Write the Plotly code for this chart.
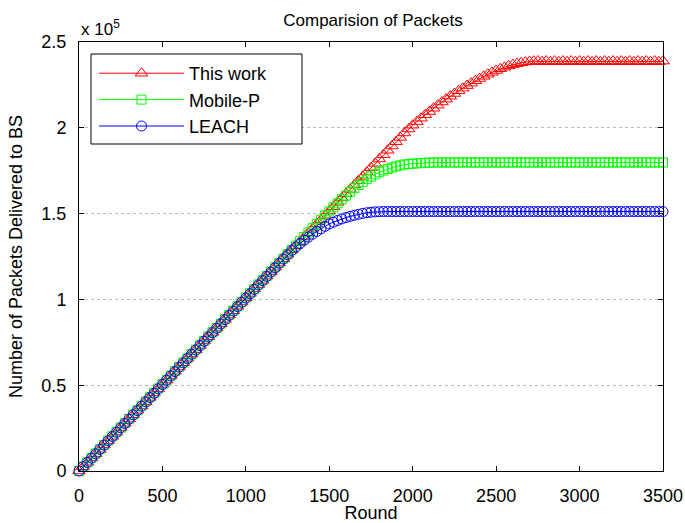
import plotly.graph_objects as go

rounds = [0, 25, 50, 75, 100, 125, 150, 175, 200, 225, 250, 275, 300, 325, 350, 375, 400, 425, 450, 475,
          500, 525, 550, 575, 600, 625, 650, 675, 700, 725, 750, 775, 800, 825, 850, 875, 900, 925, 950, 975,
          1000, 1025, 1050, 1075, 1100, 1125, 1150, 1175, 1200, 1225, 1250, 1275, 1300, 1325, 1350, 1375,
          1400, 1425, 1450, 1475, 1500, 1525, 1550, 1575, 1600, 1625, 1650, 1675, 1700, 1725, 1750, 1775,
          1800, 1825, 1850, 1875, 1900, 1925, 1950, 1975, 2000, 2025, 2050, 2075, 2100, 2125, 2150, 2175,
          2200, 2225, 2250, 2275, 2300, 2325, 2350, 2375, 2400, 2425, 2450, 2475, 2500, 2525, 2550, 2575,
          2600, 2625, 2650, 2675, 2700, 2725, 2750, 2775, 2800, 2825, 2850, 2875, 2900, 2925, 2950, 2975,
          3000, 3025, 3050, 3075, 3100, 3125, 3150, 3175, 3200, 3225, 3250, 3275, 3300, 3325, 3350, 3375,
          3400, 3425, 3450, 3475, 3500]

# packets delivered to BS, in thousands
this_work = [0.0, 2.5, 5.1, 7.6, 10.1, 12.6, 15.2, 17.7, 20.2, 22.7, 25.3, 27.8, 30.3, 32.8, 35.4, 37.9,
             40.4, 42.9, 45.5, 48.0, 50.5, 53.0, 55.6, 58.1, 60.6, 63.1, 65.7, 68.2, 70.7, 73.2, 75.8, 78.3,
             80.8, 83.3, 85.9, 88.4, 90.9, 93.4, 96.0, 98.5, 101.0, 103.5, 106.1, 108.6, 111.1, 113.6, 116.2,
             118.7, 121.2, 123.7, 126.3, 128.8, 131.3, 133.8, 136.4, 138.9, 141.4, 143.9, 146.5, 149.0, 151.5,
             154.0, 156.6, 159.1, 161.6, 164.1, 166.7, 169.2, 171.7, 174.2, 176.8, 179.3, 181.8, 184.3, 186.9,
             189.4, 191.9, 194.4, 197.0, 199.3, 201.5, 203.6, 205.6, 207.6, 209.5, 211.4, 213.2, 215.0, 216.7,
             218.4, 220.0, 221.6, 223.1, 224.6, 226.0, 227.4, 228.7, 230.0, 231.2, 232.3, 233.4, 234.4, 235.3,
             236.1, 236.8, 237.4, 237.9, 238.3, 238.6, 238.8, 238.9, 238.5, 238.9, 238.5, 238.9, 238.5, 238.9,
             238.5, 238.9, 238.5, 238.9, 238.5, 238.9, 238.5, 238.9, 238.5, 238.9, 238.5, 238.9, 238.5, 238.9,
             238.5, 238.9, 238.5, 238.9, 238.5, 238.9, 238.5, 238.9, 238.5, 238.9]

mobile_p = [0.0, 2.6, 5.1, 7.7, 10.2, 12.7, 15.2, 17.8, 20.3, 22.8, 25.3, 27.9, 30.4, 32.9, 35.4, 38.0,
            40.5, 43.0, 45.5, 48.1, 50.6, 53.1, 55.6, 58.2, 60.7, 63.2, 65.7, 68.3, 70.8, 73.3, 75.8, 78.4,
            80.9, 83.4, 85.9, 88.5, 91.0, 93.5, 96.0, 98.6, 101.1, 103.6, 106.1, 108.7, 111.2, 113.7, 116.2,
            118.8, 121.3, 123.8, 126.3, 128.9, 131.4, 133.9, 136.4, 139.0, 141.5, 144.0, 146.5, 149.0, 151.3,
            153.7, 156.0, 158.3, 160.5, 162.7, 164.8, 166.7, 168.5, 170.1, 171.6, 172.9, 174.1, 175.1, 176.0,
            176.8, 177.5, 178.1, 178.6, 178.9, 179.1, 179.3, 179.4, 179.6, 179.7, 179.8, 179.8, 179.8, 179.8,
            179.8, 179.8, 179.8, 179.8, 179.8, 179.8, 179.8, 179.8, 179.8, 179.8, 179.8, 179.8, 179.8, 179.8,
            179.8, 179.8, 179.8, 179.8, 179.8, 179.8, 179.8, 179.8, 179.8, 179.8, 179.8, 179.8, 179.8, 179.8,
            179.8, 179.8, 179.8, 179.8, 179.8, 179.8, 179.8, 179.8, 179.8, 179.8, 179.8, 179.8, 179.8, 179.8,
            179.8, 179.8, 179.8, 179.8, 179.8, 179.8, 179.8, 179.8, 179.8, 179.8]

leach = [0.0, 2.5, 5.0, 7.5, 10.0, 12.6, 15.1, 17.6, 20.1, 22.6, 25.2, 27.7, 30.2, 32.7, 35.2, 37.8,
         40.3, 42.8, 45.3, 47.9, 50.4, 52.9, 55.4, 57.9, 60.5, 63.0, 65.5, 68.0, 70.5, 73.1, 75.6, 78.1,
         80.6, 83.2, 85.7, 88.2, 90.7, 93.2, 95.8, 98.3, 100.8, 103.3, 105.8, 108.4, 110.9, 113.4, 115.9,
         118.4, 121.0, 123.5, 126.0, 128.5, 130.6, 132.6, 134.5, 136.3, 138.0, 139.6, 141.1, 142.6, 144.0,
         145.0, 146.0, 146.9, 147.7, 148.4, 149.0, 149.6, 150.1, 150.5, 150.8, 151.0, 151.1, 151.2, 151.2,
         151.2, 151.2, 151.2, 151.2, 151.2, 151.2, 151.2, 151.2, 151.2, 151.2, 151.2, 151.2, 151.2, 151.2,
         151.2, 151.2, 151.2, 151.2, 151.2, 151.2, 151.2, 151.2, 151.2, 151.2, 151.2, 151.2, 151.2, 151.2,
         151.2, 151.2, 151.2, 151.2, 151.2, 151.2, 151.2, 151.2, 151.2, 151.2, 151.2, 151.2, 151.2, 151.2,
         151.2, 151.2, 151.2, 151.2, 151.2, 151.2, 151.2, 151.2, 151.2, 151.2, 151.2, 151.2, 151.2, 151.2,
         151.2, 151.2, 151.2, 151.2, 151.2, 151.2, 151.2, 151.2, 151.2, 151.2]

x_ticks = [0, 500, 1000, 1500, 2000, 2500, 3000, 3500]
y_ticks = [0, 50, 100, 150, 200, 250]
y_tick_labels = ["0", "0.5", "1", "1.5", "2", "2.5"]

series = [
    ("This work", this_work, "#ff0000", "triangle-up-open", 11),
    ("Mobile-P", mobile_p, "#00ff00", "square-open", 9),
    ("LEACH", leach, "#0000ff", "circle-open", 10),
]

FONT = "Liberation Sans, Arial, sans-serif"

W, H = 685, 523
ML, MR, MT, MB = 79, 22, 42, 52
PW, PH = W - ML - MR, H - MT - MB


def px(xp):
    return (xp - ML) / PW


def py(yp):
    return 1 - (yp - MT) / PH


fig = go.Figure()
for name, vals, color, sym, size in series:
    fig.add_trace(go.Scatter(
        x=rounds, y=vals, name=name, mode="lines+markers", legendgroup=name,
        line=dict(color=color, width=1),
        marker=dict(symbol=sym, size=size, color=color, line=dict(color=color, width=1)),
        cliponaxis=False,
    ))

axis_common = dict(
    showline=True, linecolor="black", linewidth=1, mirror="ticks",
    ticks="inside", ticklen=5, tickcolor="black", tickwidth=1,
    tickfont=dict(family=FONT, size=18, color="black"), zeroline=False,
    automargin=False,
)

fig.update_xaxes(range=[0, 3500], tickvals=x_ticks, showgrid=False, ticklabelstandoff=8,
                 title=dict(text="Round", font=dict(family=FONT, size=18, color="black"), standoff=9),
                 **axis_common)
fig.update_yaxes(range=[0, 250], tickvals=y_ticks, ticktext=y_tick_labels, ticklabelstandoff=8,
                 showgrid=True, gridcolor="#bcbcbc", griddash="dot", gridwidth=1,
                 title=dict(text="Number of Packets Delivered to BS",
                            font=dict(family=FONT, size=18, color="black"), standoff=14),
                 **axis_common)

fig.update_layout(
    width=W, height=H,
    margin=dict(l=ML, r=MR, t=MT, b=MB, autoexpand=False),
    paper_bgcolor="white", plot_bgcolor="white",
    title=dict(text="Comparision of Packets", x=px(373), xanchor="center", xref="paper",
               y=1 - 20 / H, yref="container", yanchor="middle", automargin=False,
               font=dict(family=FONT, size=17, color="black")),
    font=dict(family=FONT, color="black"),
    showlegend=True,
    legend=dict(x=px(94), y=py(55), xanchor="left", yanchor="top",
                borderwidth=0, bgcolor="rgba(0,0,0,0)",
                font=dict(family=FONT, size=18, color="black"),
                itemwidth=85, traceorder="grouped", tracegroupgap=0),
    shapes=[dict(type="rect", xref="paper", yref="paper",
                 x0=px(91), x1=px(302), y0=py(144), y1=py(54),
                 line=dict(color="black", width=1), fillcolor="white", layer="above")],
    annotations=[dict(text="x 10<sup>5</sup>", xref="paper", yref="paper", x=0, y=1,
                      xanchor="left", yanchor="bottom", showarrow=False, yshift=1,
                      font=dict(family=FONT, size=17, color="black"))],
)

fig.write_html("out.html")
